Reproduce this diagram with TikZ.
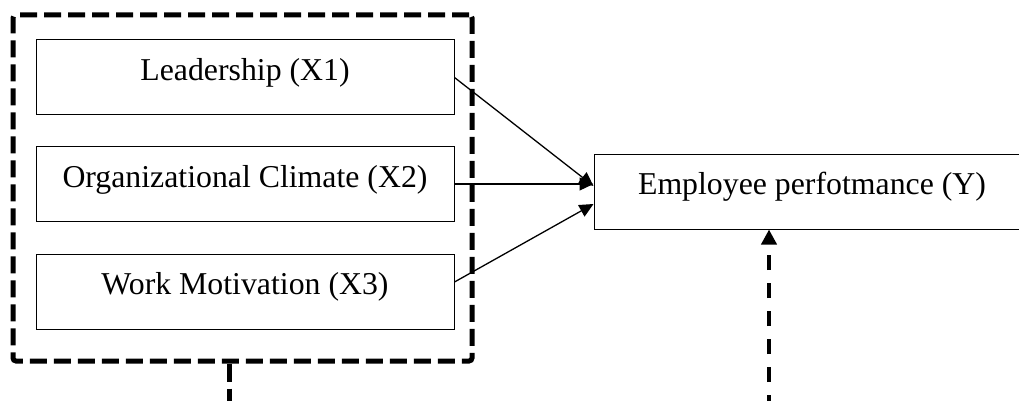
\documentclass[tikz,border=0pt]{standalone}
\usepackage{fontspec}
\setmainfont{Liberation Serif}
\usetikzlibrary{arrows.meta}
\begin{document}
\begin{tikzpicture}[x=1pt,y=-1pt,
  varbox/.style={draw,line width=1pt,minimum width=418pt,minimum height=75pt,inner sep=0pt,
    text height=22pt,text depth=16pt,font=\fontsize{31.8}{38}\selectfont},
  groupbox/.style={draw,line width=5pt,dash pattern=on 17pt off 7pt,rounded corners=3pt,
    minimum width=459pt,minimum height=346pt,inner sep=0pt},
  link/.style={line width=1.3pt,-{Triangle[length=14pt,width=13pt]}},
  grpline/.style={line width=5pt,dash pattern=on 18pt off 7pt},
  dasharrow/.style={line width=4.5pt,dash pattern=on 15pt off 13pt,-{Triangle[length=15pt,width=15pt]}}
]
\useasboundingbox (0,0) rectangle (1019,401);
\node[groupbox] (grp) at (242.5,188) {};
\node[varbox] (x1) at (245,77.5) {Leadership (X1)};
\node[varbox] (x2) at (245,184) {Organizational Climate (X2)};
\node[varbox] (x3) at (245,291.5) {Work Motivation (X3)};
\node[varbox,minimum width=436pt] (y) at (812,191.5) {Employee perfotmance (Y)};
\coordinate (b1) at (229,410);
\coordinate (b2) at (769,410);
\draw[link] (x1.east) -- ([yshift=5.5pt]y.west);
\draw[link] (x2.east) -- ([yshift=7.5pt]y.west);
\draw[link] ([yshift=9.5pt]x3.east) -- ([yshift=-12.5pt]y.west);
\draw[grpline] (grp.south -| b1) -- (b1);
\draw[dasharrow] (b2) -- (b2 |- y.south);
\end{tikzpicture}
\end{document}
